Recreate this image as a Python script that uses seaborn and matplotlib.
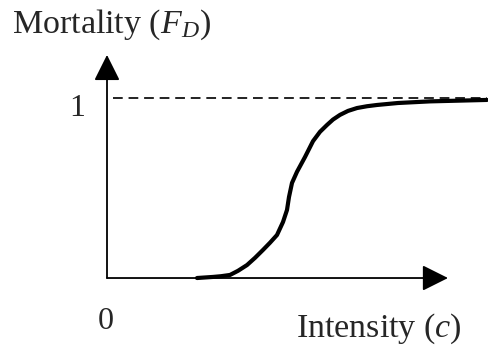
import matplotlib
matplotlib.use("Agg")
import matplotlib.pyplot as plt
import seaborn as sns
import pandas as pd

# Data (x: intensity units, y: mortality fraction)
intensity = [0.90, 1.06, 1.14, 1.23, 1.31, 1.40, 1.48, 1.56, 1.63, 1.70, 1.76, 1.80,
             1.82, 1.85, 1.90, 1.98, 2.06, 2.13, 2.20, 2.26, 2.33, 2.41, 2.50, 2.60,
             2.70, 2.91, 3.23, 3.80]
mortality = [0.000, 0.006, 0.010, 0.017, 0.040, 0.072, 0.112, 0.156, 0.196, 0.239,
             0.311, 0.378, 0.450, 0.528, 0.590, 0.672, 0.760, 0.812, 0.850, 0.880,
             0.906, 0.928, 0.944, 0.954, 0.961, 0.972, 0.981, 0.989]
upper_level = 1.0
y_tick_labels = ["0", "1"]
y_label = "Mortality ($F_D$)"
x_label = "Intensity ($c$)"

sns.set_style("white")
plt.rcParams["font.family"] = ["Liberation Serif", "DejaVu Serif"]
plt.rcParams["mathtext.fontset"] = "custom"
plt.rcParams["mathtext.rm"] = "Liberation Serif"
plt.rcParams["mathtext.it"] = "Liberation Serif:italic"

fig = plt.figure(figsize=(4.88, 3.45), dpi=100)
ax = fig.add_axes([0, 0, 1, 1])
ax.set_xlim(-1.07, 3.81)
ax.set_ylim(-0.372, 1.544)
ax.axis("off")

df = pd.DataFrame({"intensity": intensity, "mortality": mortality})
sns.lineplot(data=df, x="intensity", y="mortality", color="black", lw=3.0, ax=ax,
             sort=False, solid_joinstyle="round", solid_capstyle="round")

# dashed upper level
ax.plot([0.06, 3.80], [upper_level, upper_level], color="#222222", lw=1.4,
        dashes=(5, 3), zorder=1)

arrow = dict(arrowstyle="-|>,head_length=1.6,head_width=0.8", lw=1.3, color="black",
             mutation_scale=10, shrinkA=0, shrinkB=0)
ax.annotate("", xy=(3.41, 0), xytext=(0, 0), arrowprops=arrow)
ax.annotate("", xy=(0, 1.239), xytext=(0, 0), arrowprops=arrow)

ax.text(-0.295, 0.944, y_tick_labels[1], fontsize=23, ha="center", va="center")
ax.text(-0.01, -0.244, y_tick_labels[0], fontsize=23, ha="center", va="center")
ax.text(-0.95, 1.361, y_label, fontsize=24.5, ha="left", va="baseline")
ax.text(1.89, -0.328, x_label, fontsize=24.5, ha="left", va="baseline")

fig.savefig("out.png", dpi=100)
